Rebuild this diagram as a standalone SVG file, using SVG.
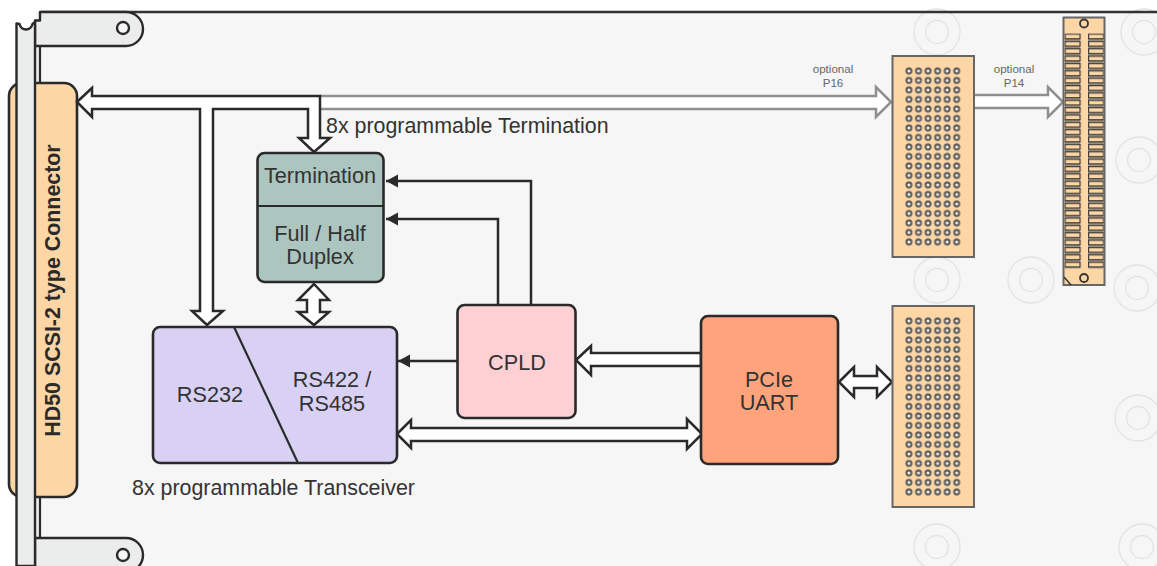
<svg xmlns="http://www.w3.org/2000/svg" width="1157" height="566" viewBox="0 0 1157 566">
<style>
text{font-family:"Liberation Sans",Arial,sans-serif;fill:#333;text-anchor:middle}
.lbl{font-size:21.7px}
.cap{font-size:21.4px;text-anchor:start}
.sm{font-size:11.6px;fill:#666}
.box{stroke:#2a2a2a;stroke-width:2.6}
.ring{fill:none;stroke:#e4e3dd;stroke-width:1.3}
.bus{fill:#fff;stroke:#2a2a2a;stroke-width:2.5;stroke-linejoin:miter}
.gbus{fill:#fff;stroke:#8f8f8f;stroke-width:2.5}
.ctl{fill:none;stroke:#2a2a2a;stroke-width:2.5}
.pcb{fill:#fdd6a6;stroke:#666;stroke-width:2}
.mech{fill:#ebecec;stroke:#2a2a2a;stroke-width:2.4;stroke-linejoin:round}
</style>
<defs>
<pattern id="holes" x="904.2" y="66.2" width="9.55" height="9.5" patternUnits="userSpaceOnUse">
<circle cx="4.77" cy="4.75" r="2.5" fill="#f4efe6" stroke="#5c5c5c" stroke-width="2"/>
</pattern>
<pattern id="holes2" x="904.2" y="316.2" width="9.55" height="9.5" patternUnits="userSpaceOnUse">
<circle cx="4.77" cy="4.75" r="2.5" fill="#f4efe6" stroke="#5c5c5c" stroke-width="2"/>
</pattern>
<pattern id="pads" x="1064.5" y="33.5" width="23.5" height="7.36" patternUnits="userSpaceOnUse">
<rect width="15.800" height="7.36" fill="#a3947c"/>
<rect x="0.6" y="0.6" width="15" height="4.7" fill="#fdd6a6" stroke="#3d3d3d" stroke-width="1.2"/>
</pattern>
<marker id="ah" markerWidth="13" markerHeight="14" refX="12" refY="7" orient="auto" markerUnits="userSpaceOnUse">
<path d="M12 7L0 0.5V13.5Z" fill="#2a2a2a"/>
</marker>
</defs>

<rect x="36" y="12" width="1121" height="554" fill="#f6f6f6"/>

<g id="mounting-rings">
<g class="ring">
<circle cx="937" cy="32" r="23"/><circle cx="937" cy="32" r="11.500"/>
<circle cx="1144" cy="32" r="23"/><circle cx="1144" cy="32" r="11.500"/>
<circle cx="1139" cy="160" r="23"/><circle cx="1139" cy="160" r="11.500"/>
<circle cx="937" cy="280" r="23"/><circle cx="937" cy="280" r="11.500"/>
<circle cx="1031" cy="280" r="23"/><circle cx="1031" cy="280" r="11.500"/>
<circle cx="1137" cy="288" r="23"/><circle cx="1137" cy="288" r="11.500"/>
<circle cx="1138" cy="418" r="23"/><circle cx="1138" cy="418" r="11.500"/>
<circle cx="937" cy="547" r="23"/><circle cx="937" cy="547" r="11.500"/>
<circle cx="1142" cy="547" r="23"/><circle cx="1142" cy="547" r="11.500"/>
</g>
</g>

<g id="board-edge">
<path d="M1157 12H41" fill="none" stroke="#333" stroke-width="2.4"/>
<rect x="35" y="46" width="5" height="37" fill="#ebecec"/>
<rect x="35" y="497" width="5" height="41" fill="#ebecec"/>
<path d="M40 46V83M40 497V538" fill="none" stroke="#2a2a2a" stroke-width="2.2"/>
</g>

<g id="scsi-connector">
<rect x="9" y="83" width="68" height="414" rx="13" fill="#fdd6a6" stroke="#2a2a2a" stroke-width="2.6"/>
<text transform="translate(60,290.500) rotate(-90)" style="font-size:21.4px;font-weight:700;fill:#2a2a2a">HD50 SCSI-2 type Connector</text>
</g>

<g id="faceplate">
<path class="mech" d="M40 12H126A17 17 0 0 1 126 46H35V20.500H40Z"/>
<circle cx="123" cy="28" r="6" fill="#f6f6f6" stroke="#2a2a2a" stroke-width="2.4"/>
<path class="mech" d="M35 538H126A17 17 0 0 1 126 572H35Z"/>
<circle cx="123" cy="555" r="6" fill="#f6f6f6" stroke="#2a2a2a" stroke-width="2.4"/>
<path class="mech" d="M16.500 23.500L19.500 24Q21 29.500 26 29.500Q31 29.500 32.500 24L35 22V566H16.500Z"/>
</g>

<g id="connectors">
<path class="gbus" d="M320 96H876V87L891 102L876 117V109H320"/>
<path class="gbus" d="M974 95H1048V87L1063 102L1048 117V108H974"/>
<path class="bus" d="M77 102L92 88V96H320V138H330L314 152L299 138H308V109H213V311H223L207 325L192 311H200V109H92V117Z"/>
<path class="bus" d="M314 284L329 300H320V312H329L314 325L298 312H307V300H298Z"/>
<path class="bus" d="M397 434L411 420V428H687V419L702 434L687 449V441H411V448Z"/>
<path class="bus" d="M576 360L591 346V353H701V366H591V375Z"/>
<path class="bus" d="M839 382L854 367V376H877V367L892 382L877 397V388H854V397Z"/>
<path class="ctl" d="M531 305V181H386" marker-end="url(#ah)"/>
<path class="ctl" d="M498 305V219H386" marker-end="url(#ah)"/>
<path class="ctl" d="M457 361H398" marker-end="url(#ah)"/>
</g>

<g id="termination-duplex">
<rect class="box" x="257.500" y="153" width="126" height="129" rx="7" fill="#acc5bf"/>
<path d="M257 206H384" stroke="#2a2a2a" stroke-width="2"/>
<text class="lbl" x="320" y="183">Termination</text>
<text class="lbl" x="320" y="240.500">Full / Half</text>
<text class="lbl" x="320" y="264">Duplex</text>
</g>

<g id="transceiver">
<rect class="box" x="153" y="327" width="244" height="136" rx="7" fill="#d8d1f3"/>
<path d="M234 327L298 463" stroke="#2a2a2a" stroke-width="2.2"/>
<text class="lbl" x="210" y="401.500">RS232</text>
<text class="lbl" x="332" y="386.500">RS422 /</text>
<text class="lbl" x="332" y="410.500">RS485</text>
</g>

<g id="cpld">
<rect class="box" x="457.500" y="305" width="118" height="113" rx="7" fill="#ffd0d3"/>
<text class="lbl" x="517" y="369.500">CPLD</text>
</g>

<g id="pcie-uart">
<rect class="box" x="701" y="316" width="137" height="148" rx="7" fill="#ffa37c"/>
<text class="lbl" x="769" y="386.500">PCIe</text>
<text class="lbl" x="769" y="409.500">UART</text>
</g>

<g id="p16">
<rect class="pcb" x="892.500" y="56" width="81.500" height="201"/>
<rect x="904.200" y="66.200" width="57.300" height="180.500" fill="url(#holes)"/>
</g>

<g id="pcie-connector">
<rect class="pcb" x="892.500" y="306" width="81.500" height="201"/>
<rect x="904.200" y="316.200" width="57.300" height="180.500" fill="url(#holes2)"/>
</g>

<g id="p14">
<rect class="pcb" x="1063.500" y="17.500" width="41" height="267.500"/>
<rect x="1064.500" y="33.500" width="39.300" height="235" fill="url(#pads)"/>
<circle cx="1084" cy="23.500" r="4" fill="#fdd6a6" stroke="#333" stroke-width="1.800"/>
<circle cx="1084" cy="278" r="4" fill="#fdd6a6" stroke="#333" stroke-width="1.800"/>
<path d="M1064 277L1071 285" stroke="#333" stroke-width="1.500"/>
</g>

<g id="labels">
<text class="cap" x="326" y="132.800">8x programmable Termination</text>
<text class="cap" x="132" y="494.500">8x programmable Transceiver</text>
<text class="sm" x="833" y="73">optional</text>
<text class="sm" x="833" y="87">P16</text>
<text class="sm" x="1014" y="73">optional</text>
<text class="sm" x="1014" y="87">P14</text>
</g>
</svg>
